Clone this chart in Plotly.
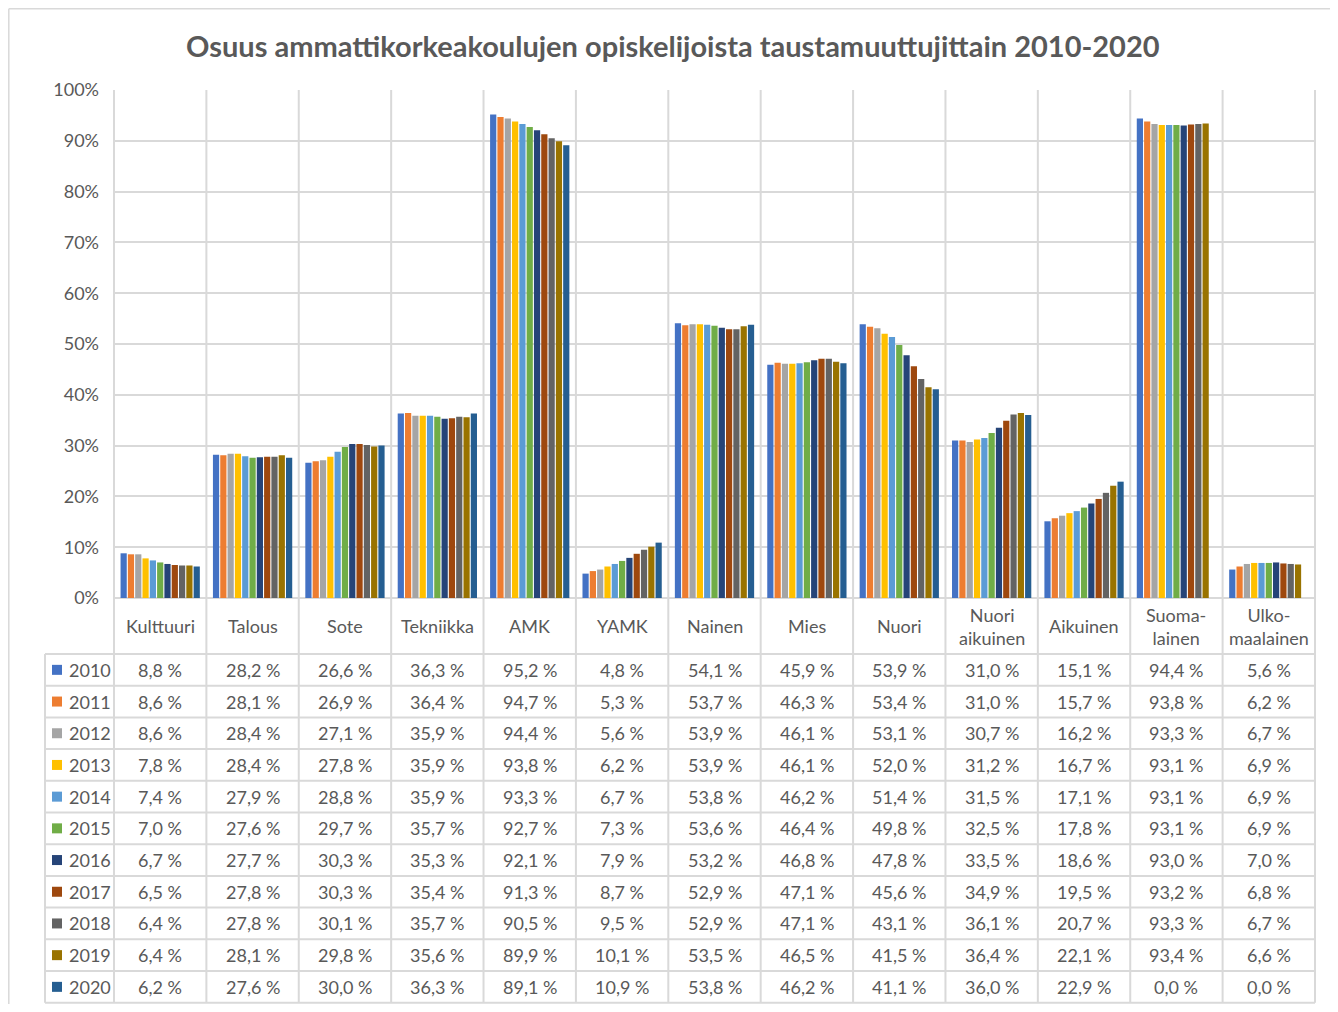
import plotly.graph_objects as go

categories = ["Kulttuuri", "Talous", "Sote", "Tekniikka", "AMK", "YAMK", "Nainen", "Mies",
              "Nuori", "Nuori aikuinen", "Aikuinen", "Suomalainen", "Ulkomaalainen"]
category_labels = ["Kulttuuri", "Talous", "Sote", "Tekniikka", "AMK", "YAMK", "Nainen", "Mies",
                   "Nuori", "Nuori<br>aikuinen", "Aikuinen", "Suoma-<br>lainen", "Ulko-<br>maalainen"]
years = ["2010", "2011", "2012", "2013", "2014", "2015", "2016", "2017", "2018", "2019", "2020"]
y_ticks = [0, 10, 20, 30, 40, 50, 60, 70, 80, 90, 100]
y_tick_labels = ["0%", "10%", "20%", "30%", "40%", "50%", "60%", "70%", "80%", "90%", "100%"]

v2010 = [8.8, 28.2, 26.6, 36.3, 95.2, 4.8, 54.1, 45.9, 53.9, 31.0, 15.1, 94.4, 5.6]
v2011 = [8.6, 28.1, 26.9, 36.4, 94.7, 5.3, 53.7, 46.3, 53.4, 31.0, 15.7, 93.8, 6.2]
v2012 = [8.6, 28.4, 27.1, 35.9, 94.4, 5.6, 53.9, 46.1, 53.1, 30.7, 16.2, 93.3, 6.7]
v2013 = [7.8, 28.4, 27.8, 35.9, 93.8, 6.2, 53.9, 46.1, 52.0, 31.2, 16.7, 93.1, 6.9]
v2014 = [7.4, 27.9, 28.8, 35.9, 93.3, 6.7, 53.8, 46.2, 51.4, 31.5, 17.1, 93.1, 6.9]
v2015 = [7.0, 27.6, 29.7, 35.7, 92.7, 7.3, 53.6, 46.4, 49.8, 32.5, 17.8, 93.1, 6.9]
v2016 = [6.7, 27.7, 30.3, 35.3, 92.1, 7.9, 53.2, 46.8, 47.8, 33.5, 18.6, 93.0, 7.0]
v2017 = [6.5, 27.8, 30.3, 35.4, 91.3, 8.7, 52.9, 47.1, 45.6, 34.9, 19.5, 93.2, 6.8]
v2018 = [6.4, 27.8, 30.1, 35.7, 90.5, 9.5, 52.9, 47.1, 43.1, 36.1, 20.7, 93.3, 6.7]
v2019 = [6.4, 28.1, 29.8, 35.6, 89.9, 10.1, 53.5, 46.5, 41.5, 36.4, 22.1, 93.4, 6.6]
v2020 = [6.2, 27.6, 30.0, 36.3, 89.1, 10.9, 53.8, 46.2, 41.1, 36.0, 22.9, 0.0, 0.0]
series = [v2010, v2011, v2012, v2013, v2014, v2015, v2016, v2017, v2018, v2019, v2020]

colors = ["#4472C4", "#ED7D31", "#A5A5A5", "#FFC000", "#5B9BD5", "#70AD47",
          "#264478", "#9E480E", "#636363", "#997300", "#255E91"]

# page has an 8px body margin: figure is 16px smaller and coordinates shifted by 8
OFF = 8
W, H = 1338 - 2 * OFF, 1012 - 2 * OFF
FONT = "Lato"
TXT = "#595959"
GRID = "#D9D9D9"
FS = 18

# pixel layout (in page pixels)
PL, PR, PT, PB = 114, 1315, 90, 598
HEAD_B = 654
ROW_H = 31.7
TAB_L = 45
TAB_B = HEAD_B + ROW_H * len(years)
n = len(categories)
cw = (PR - PL) / n

def px(x):
    return (x - OFF) / W

def py(y):
    return 1 - (y - OFF) / H

fig = go.Figure()
for yr, vals, c in zip(years, series, colors):
    fig.add_trace(go.Bar(x=categories, y=vals, name=yr, marker=dict(color=c, line=dict(width=0))))

shapes = []
annotations = []

for k in range(n + 1):
    xx = px(PL + k * cw)
    shapes.append(dict(type="line", xref="paper", yref="paper", x0=xx, x1=xx,
                       y0=py(PT), y1=py(TAB_B), line=dict(color=GRID, width=2), layer="below"))
shapes.append(dict(type="line", xref="paper", yref="paper", x0=px(TAB_L), x1=px(TAB_L),
                   y0=py(HEAD_B), y1=py(TAB_B), line=dict(color=GRID, width=2), layer="below"))
for r in range(len(years) + 1):
    yy = py(HEAD_B + r * ROW_H)
    shapes.append(dict(type="line", xref="paper", yref="paper", x0=px(TAB_L), x1=px(PR),
                       y0=yy, y1=yy, line=dict(color=GRID, width=2), layer="below"))
shapes.append(dict(type="line", xref="paper", yref="paper", x0=px(PL), x1=px(PR),
                   y0=py(PB), y1=py(PB), line=dict(color=GRID, width=2), layer="below"))
# outer chart border (top and left visible; right/bottom run off the page)
shapes.append(dict(type="line", xref="paper", yref="paper", x0=px(8.8), x1=1,
                   y0=py(8.8), y1=py(8.8), line=dict(color="#D9D9D9", width=1.5), layer="below"))
shapes.append(dict(type="line", xref="paper", yref="paper", x0=px(8.8), x1=px(8.8),
                   y0=py(8.8), y1=0, line=dict(color="#D9D9D9", width=1.5), layer="below"))

for k, lab in enumerate(category_labels):
    annotations.append(dict(x=px(PL + (k + 0.5) * cw), y=py(626), xref="paper", yref="paper",
                            text=lab, showarrow=False, font=dict(family=FONT, size=FS, color=TXT),
                            xanchor="center", yanchor="middle"))

for r, (yr, vals, c) in enumerate(zip(years, series, colors)):
    yc = HEAD_B + r * ROW_H + ROW_H / 2
    shapes.append(dict(type="rect", xref="paper", yref="paper", x0=px(52), x1=px(62),
                       y0=py(yc + 5), y1=py(yc - 5), fillcolor=c, line=dict(width=0)))
    annotations.append(dict(x=px(67), y=py(yc), xref="paper", yref="paper", text=yr,
                            showarrow=False, font=dict(family=FONT, size=FS, color=TXT),
                            xanchor="left", yanchor="middle"))
    for k, v in enumerate(vals):
        txt = f"{v:.1f}".replace(".", ",") + " %"
        annotations.append(dict(x=px(PL + (k + 0.5) * cw), y=py(yc), xref="paper", yref="paper",
                                text=txt, showarrow=False,
                                font=dict(family=FONT, size=FS, color=TXT),
                                xanchor="center", yanchor="middle"))

annotations.append(dict(x=px(673), y=py(45), xref="paper", yref="paper",
                        text="<b>Osuus ammattikorkeakoulujen opiskelijoista taustamuuttujittain 2010-2020</b>",
                        showarrow=False, font=dict(family=FONT, size=29, color=TXT),
                        xanchor="center", yanchor="middle"))

fig.update_layout(
    width=W, height=H,
    margin=dict(l=0, r=0, t=0, b=0, autoexpand=False),
    paper_bgcolor="white", plot_bgcolor="white",
    showlegend=False,
    barmode="group", bargap=0.13, bargroupgap=0.15,
    xaxis=dict(domain=[px(PL), px(PR)], type="category", range=[-0.5, n - 0.5],
               showticklabels=False, showgrid=False, zeroline=False, showline=False, ticks="",
               automargin=False),
    yaxis=dict(domain=[py(PB), py(PT)], range=[0, 100], tickmode="array", tickvals=y_ticks,
               ticktext=y_tick_labels, showgrid=True, gridcolor=GRID, gridwidth=2, zeroline=False,
               showline=False, ticks="", ticklabelstandoff=14, automargin=False,
               tickfont=dict(family=FONT, size=FS, color=TXT)),
    shapes=shapes, annotations=annotations,
    font=dict(family=FONT, color=TXT),
)

fig.write_html("out.html")
